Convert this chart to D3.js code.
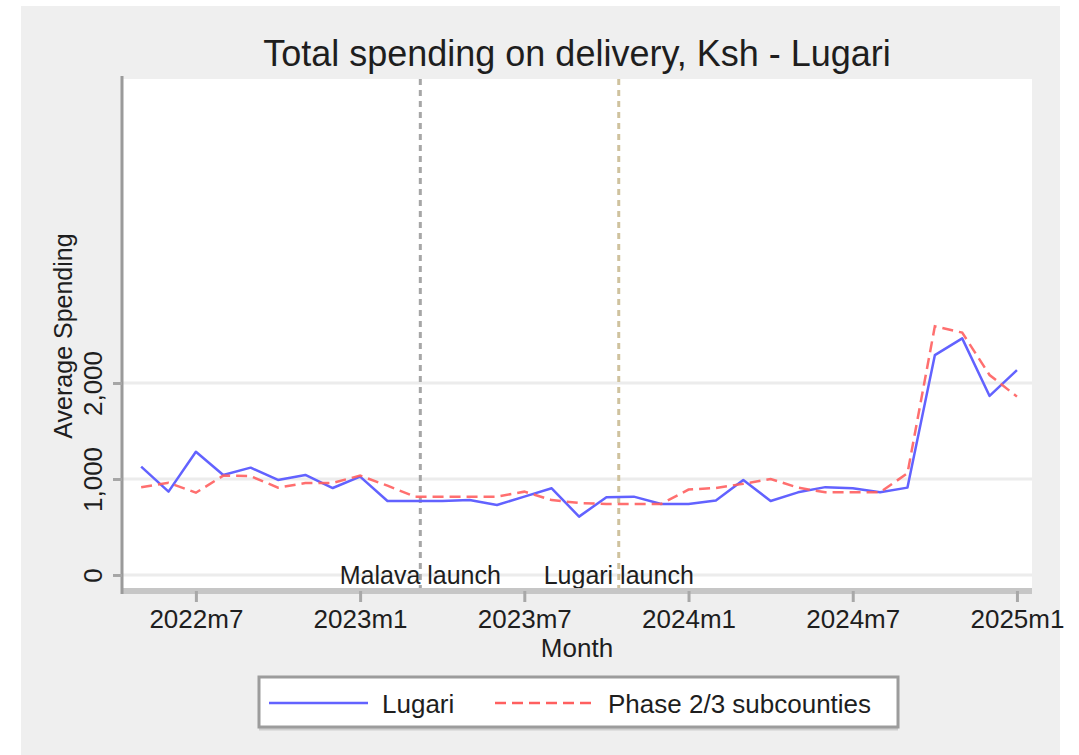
<!DOCTYPE html>
<html>
<head>
<meta charset="utf-8">
<script src="https://cdn.jsdelivr.net/npm/d3@7"></script>
<style>
  body { margin: 0; background: #fff; }
  svg { display: block; }
  text { font-family: "Liberation Sans", Arial, sans-serif; fill: #1e1e1e; }
</style>
</head>
<body>
<svg id="chart" width="1079" height="755"></svg>
<script>
'use strict';

// Monthly series, 2022m5 .. 2025m1
const months = [
  '2022m5', '2022m6', '2022m7', '2022m8', '2022m9', '2022m10', '2022m11', '2022m12',
  '2023m1', '2023m2', '2023m3', '2023m4', '2023m5', '2023m6', '2023m7', '2023m8',
  '2023m9', '2023m10', '2023m11', '2023m12', '2024m1', '2024m2', '2024m3', '2024m4',
  '2024m5', '2024m6', '2024m7', '2024m8', '2024m9', '2024m10', '2024m11', '2024m12',
  '2025m1'
];
const lugari = [
  1128, 868, 1284, 1042, 1118, 990, 1042, 906,
  1024, 771, 771, 771, 780, 729, 816, 903,
  608, 810, 816, 740, 740, 775, 990, 771,
  861, 915, 903, 861, 910, 2290, 2465, 1865,
  2135
];
const phase23 = [
  913, 961, 857, 1035, 1030, 910, 957, 959,
  1035, 930, 816, 816, 816, 816, 868, 780,
  750, 740, 740, 740, 890, 906, 950, 1000,
  910, 861, 861, 861, 1060, 2590, 2525, 2083,
  1858
];
const seriesNames = ['Lugari', 'Phase 2/3 subcounties'];
const xTickLabels = ['2022m7', '2023m1', '2023m7', '2024m1', '2024m7', '2025m1'];
const yTickValues = [0, 1000, 2000];
// launch events, position given as month index (fractional)
const launchNames = ['Malava launch', 'Lugari launch'];
const launchMonths = [10.2, 17.45];

const svg = d3.select('#chart');

// Stata-like grey background
svg.append('rect')
  .attr('x', 21).attr('y', 6)
  .attr('width', 1039).attr('height', 749)
  .attr('fill', '#efefef');

const plot = { left: 122, right: 1032, top: 79, bottom: 591 };

svg.append('rect')
  .attr('x', plot.left).attr('y', plot.top)
  .attr('width', plot.right - plot.left).attr('height', plot.bottom - plot.top)
  .attr('fill', '#fff');

const x = d3.scaleLinear().domain([-0.7, 32.55]).range([plot.left, plot.right]);
const y = d3.scaleLinear().domain([-167, 5167]).range([plot.bottom, plot.top]);

// gridlines
svg.append('g').selectAll('line')
  .data(yTickValues)
  .enter().append('line')
    .attr('x1', plot.left).attr('x2', plot.right)
    .attr('y1', d => y(d)).attr('y2', d => y(d))
    .attr('stroke', '#ececec')
    .attr('stroke-width', 3);

// launch markers
const launchColors = ['#a6a6a6', '#cfc29e'];
const launch = svg.append('g');
launch.selectAll('line')
  .data(launchMonths)
  .enter().append('line')
    .attr('x1', d => x(d)).attr('x2', d => x(d))
    .attr('y1', plot.top).attr('y2', plot.bottom)
    .attr('stroke', (d, i) => launchColors[i])
    .attr('stroke-width', 3)
    .attr('stroke-dasharray', '6,5');
launch.selectAll('text')
  .data(launchMonths)
  .enter().append('text')
    .attr('x', d => x(d))
    .attr('y', 584)
    .attr('text-anchor', 'middle')
    .attr('font-size', 25)
    .text((d, i) => launchNames[i]);

// series
const line = d3.line()
  .x((d, i) => x(i))
  .y(d => y(d));

svg.append('path')
  .datum(lugari)
  .attr('d', line)
  .attr('fill', 'none')
  .attr('stroke', '#6262ff')
  .attr('stroke-width', 2.5)
  .attr('stroke-linejoin', 'round');

svg.append('path')
  .datum(phase23)
  .attr('d', line)
  .attr('fill', 'none')
  .attr('stroke', '#ff5f5f')
  .attr('stroke-opacity', 0.9)
  .attr('stroke-width', 2.5)
  .attr('stroke-dasharray', '11,6');

// x axis
const xAxis = d3.axisBottom(x)
  .tickValues(xTickLabels.map(m => months.indexOf(m)))
  .tickFormat(i => months[i])
  .tickSize(11)
  .tickSizeOuter(0)
  .tickPadding(7.5);

const gx = svg.append('g')
  .attr('transform', `translate(0,${plot.bottom})`)
  .call(xAxis);
gx.select('.domain')
  .attr('d', `M${plot.left},0H${plot.right}`)
  .attr('stroke', '#c6c6c6')
  .attr('stroke-width', 6);
gx.selectAll('.tick line').attr('stroke', '#a8a8a8').attr('stroke-width', 3);
gx.selectAll('.tick text')
  .attr('font-size', 26)
  .attr('font-family', '"Liberation Sans", Arial, sans-serif')
  .attr('fill', '#1e1e1e');

// y axis
const yAxis = d3.axisLeft(y)
  .tickValues(yTickValues)
  .tickFormat(d3.format(','))
  .tickSize(9)
  .tickSizeOuter(0);

const gy = svg.append('g')
  .attr('transform', `translate(${plot.left},0)`)
  .call(yAxis);
gy.select('.domain')
  .attr('d', `M0,${plot.top - 3}V${plot.bottom + 3}`)
  .attr('stroke', '#9a9a9a')
  .attr('stroke-width', 3);
gy.selectAll('.tick line').attr('stroke', '#a6a6a6').attr('stroke-width', 3);
gy.selectAll('.tick text')
  .attr('transform', 'rotate(-90)')
  .attr('x', 0)
  .attr('y', -20)
  .attr('dy', 0)
  .attr('text-anchor', 'middle')
  .attr('font-size', 26)
  .attr('font-family', '"Liberation Sans", Arial, sans-serif')
  .attr('fill', '#1e1e1e');

// titles
svg.append('text')
  .attr('x', 577).attr('y', 66)
  .attr('text-anchor', 'middle')
  .attr('font-size', 36)
  .text('Total spending on delivery, Ksh - Lugari');

svg.append('text')
  .attr('x', 577).attr('y', 657)
  .attr('text-anchor', 'middle')
  .attr('font-size', 26)
  .text('Month');

svg.append('text')
  .attr('transform', 'translate(72,336) rotate(-90)')
  .attr('text-anchor', 'middle')
  .attr('font-size', 25)
  .text('Average Spending');

// legend
const legend = svg.append('g');
legend.append('line')
  .attr('x1', 259).attr('x2', 898)
  .attr('y1', 728).attr('y2', 728)
  .attr('stroke', '#cfcfcf')
  .attr('stroke-width', 5);
legend.append('rect')
  .attr('x', 259).attr('y', 677)
  .attr('width', 639).attr('height', 50)
  .attr('fill', '#fff')
  .attr('stroke', '#9c9c9c')
  .attr('stroke-width', 3);

const legendItems = [
  { x0: 269, x1: 368, tx: 382, color: '#6262ff', dash: null },
  { x0: 495, x1: 595, tx: 608, color: '#ff5f5f', dash: '11,6' }
];
legendItems.forEach((it, i) => {
  legend.append('line')
    .attr('x1', it.x0).attr('x2', it.x1)
    .attr('y1', 703).attr('y2', 703)
    .attr('stroke', it.color)
    .attr('stroke-width', 2.5)
    .attr('stroke-dasharray', it.dash);
  legend.append('text')
    .attr('x', it.tx).attr('y', 713)
    .attr('font-size', 26)
    .text(seriesNames[i]);
});
</script>
</body>
</html>
